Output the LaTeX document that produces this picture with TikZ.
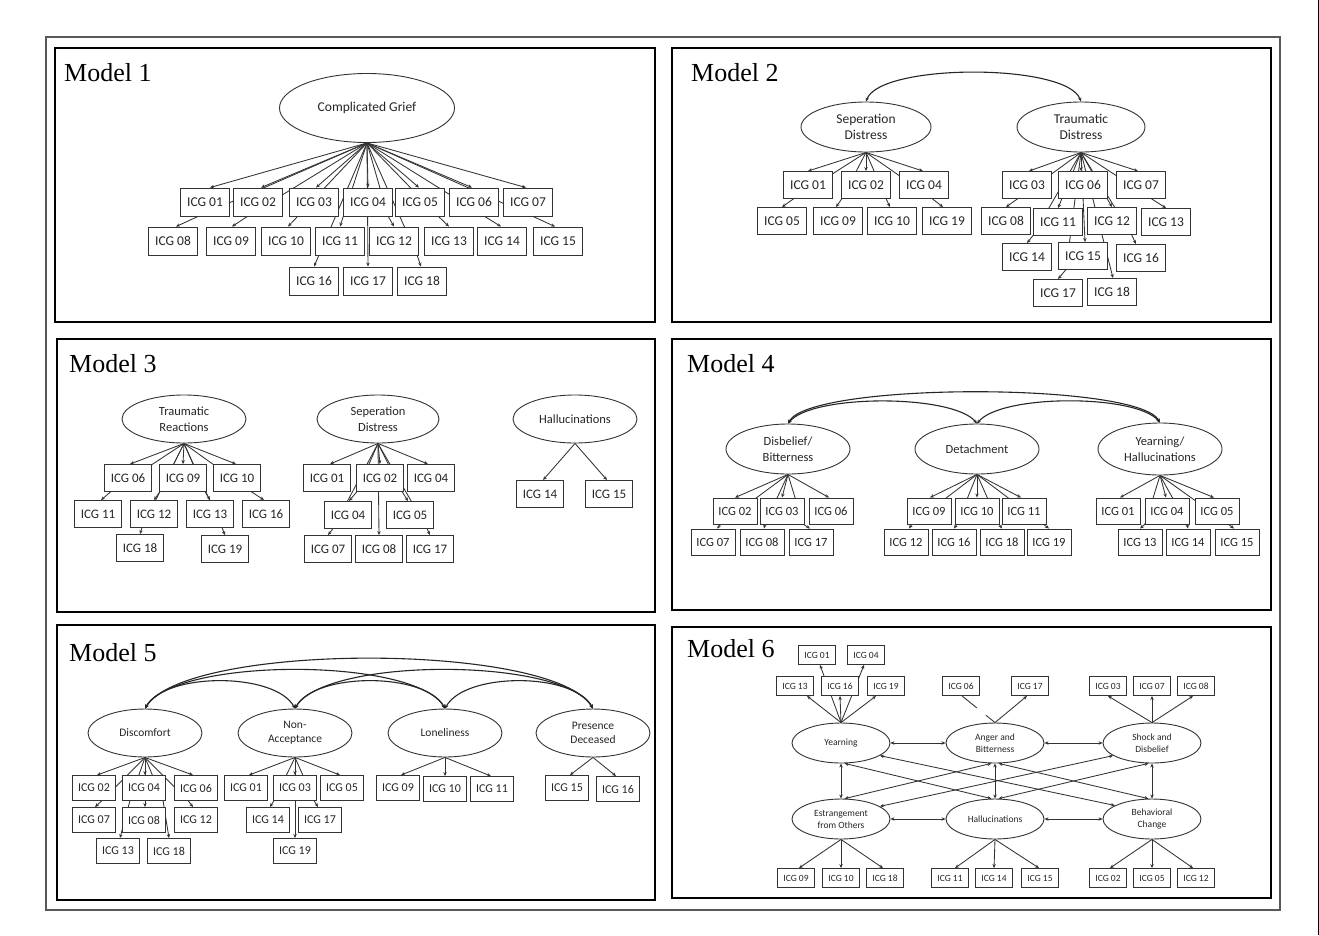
\documentclass[tikz,border=0pt]{standalone}
\usepackage{fontspec}
\setmainfont{Carlito}
\newfontfamily\titlefont{Liberation Serif}
\usetikzlibrary{shapes.geometric,arrows.meta,calc}
\pgfdeclarelayer{bg}
\pgfsetlayers{bg,main}
\tikzset{
  >={Stealth[length=4pt,width=3.4pt]},
  panel/.style={draw=black, line width=2.2pt},
  outerframe/.style={draw=black!65, line width=1.2pt},
  ttl/.style={anchor=base west, inner sep=0pt, font=\titlefont\fontsize{26}{26}\selectfont},
  lat/.style 2 args={ellipse, draw=black!80, line width=0.9pt, fill=white, minimum width=#1, minimum height=#2, inner sep=0pt, align=center, text=black!85},
  bx/.style 2 args={draw=black!80, line width=0.9pt, fill=white, minimum width=#1, minimum height=#2, inner sep=0pt, text=black!85},
  ar/.style={draw=black!80, line width=0.85pt, ->},
  dar/.style={draw=black!85, line width=1.1pt, <->},
  ln/.style={draw=black!80, line width=0.85pt},
  fA/.style={font=\fontsize{13.5}{16}\selectfont},
  fB/.style={font=\fontsize{13}{15}\selectfont},
  fC/.style={font=\fontsize{12.5}{15.5}\selectfont},
  fD/.style={font=\fontsize{12}{15}\selectfont},
  fL/.style={font=\fontsize{11.5}{14}\selectfont},
  fE/.style={font=\fontsize{9.5}{12}\selectfont},
  bA/.style={bx={49}{28}, fA},
  bB/.style={bx={49}{27}, fA},
  bC/.style={bx={47}{27}, fB},
  bD/.style={bx={44}{26}, fC},
  bE/.style={bx={43}{25}, fD},
  bF/.style={bx={37}{19}, fE},
}
\begin{document}
\begin{tikzpicture}[x=1pt,y=-1pt]
\useasboundingbox (0,0) rectangle (1319,935);
\begin{pgfonlayer}{bg}
\fill[white] (0,0) rectangle (1319,935);
\end{pgfonlayer}
\draw[line width=1.5pt] (1318.4,0) -- (1318.4,935);
\draw[outerframe] (46,37) rectangle (1280,910);
\draw[panel] (55,48) rectangle (655,322);
\draw[panel] (672,48) rectangle (1271,322);
\draw[panel] (57,339) rectangle (655,612);
\draw[panel] (672,339) rectangle (1271,610);
\draw[panel] (57,625) rectangle (655,900);
\draw[panel] (672,627) rectangle (1271,898);

% ================= Model 1 =================
\node[ttl] (t1) at (64,81) {Model 1};
\node[lat={175}{69}, fA] (m1cg) at (367,108) {Complicated Grief};
\node[bA] (m1i01) at (205,202) {ICG 01};
\node[bA] (m1i02) at (258,202) {ICG 02};
\node[bA] (m1i03) at (314,202) {ICG 03};
\node[bA] (m1i04) at (368,202) {ICG 04};
\node[bA] (m1i05) at (420,202) {ICG 05};
\node[bA] (m1i06) at (474,202) {ICG 06};
\node[bA] (m1i07) at (528,202) {ICG 07};
\node[bA] (m1i08) at (173,241) {ICG 08};
\node[bA] (m1i09) at (231,241) {ICG 09};
\node[bA] (m1i10) at (286,241) {ICG 10};
\node[bA] (m1i11) at (340,241) {ICG 11};
\node[bA] (m1i12) at (394,241) {ICG 12};
\node[bA] (m1i13) at (449,241) {ICG 13};
\node[bA] (m1i14) at (502,241) {ICG 14};
\node[bA] (m1i15) at (558,241) {ICG 15};
\node[bA] (m1i16) at (314,281) {ICG 16};
\node[bA] (m1i17) at (368,281) {ICG 17};
\node[bA] (m1i18) at (422,281) {ICG 18};
\begin{pgfonlayer}{bg}
\draw[ar] (m1cg.south) -- ([xshift=5]m1i01.north);
\draw[ar] (m1cg.south) -- ([xshift=3]m1i02.north);
\draw[ar] (m1cg.south) -- ([xshift=2]m1i03.north);
\draw[ar] (m1cg.south) -- (m1i04.north);
\draw[ar] (m1cg.south) -- ([xshift=-1]m1i05.north);
\draw[ar] (m1cg.south) -- ([xshift=-2]m1i06.north);
\draw[ar] (m1cg.south) -- ([xshift=-2]m1i07.north);
\draw[ar] (m1cg.south) -- (199,216) -- ([xshift=3]m1i08.north);
\draw[ar] (m1cg.south) -- (248,216) -- ([xshift=1]m1i09.north);
\draw[ar] (m1cg.south) -- (298,216) -- ([xshift=2]m1i10.north);
\draw[ar] (m1cg.south) -- (m1i11.north);
\draw[ar] (m1cg.south) -- (388,216) -- (m1i12.north);
\draw[ar] (m1cg.south) -- (438,216) -- (m1i13.north);
\draw[ar] (m1cg.south) -- (484,216) -- ([xshift=-1]m1i14.north);
\draw[ar] (m1cg.south) -- (532,216) -- ([xshift=-3]m1i15.north);
\draw[ar] (m1cg.south) -- (319,255) -- (m1i16.north);
\draw[ar] (m1cg.south) -- (m1i17.north);
\draw[ar] (m1cg.south) -- (417,255) -- ([xshift=-1]m1i18.north);
\end{pgfonlayer}

% ================= Model 2 =================
\node[ttl] (t2) at (691,81) {Model 2};
\node[lat={130}{50}, fA] (m2sd) at (866,127) {Seperation\\Distress};
\node[lat={128}{50}, fA] (m2td) at (1081,127) {Traumatic\\Distress};
\node[bB] (m2i01) at (808,185) {ICG 01};
\node[bB] (m2i02) at (866,185) {ICG 02};
\node[bB] (m2i04) at (924,185) {ICG 04};
\node[bB] (m2i05) at (782,221) {ICG 05};
\node[bB] (m2i09) at (838,221) {ICG 09};
\node[bB] (m2i10) at (892,221) {ICG 10};
\node[bB] (m2i19) at (947,221) {ICG 19};
\node[bB] (m2i03) at (1027,185) {ICG 03};
\node[bB] (m2i06) at (1083,185) {ICG 06};
\node[bB] (m2i07) at (1141,185) {ICG 07};
\node[bB] (m2i08) at (1006,221) {ICG 08};
\node[bB] (m2i11) at (1058,222) {ICG 11};
\node[bB] (m2i12) at (1112,221) {ICG 12};
\node[bB] (m2i13) at (1166,222) {ICG 13};
\node[bB] (m2i14) at (1027,257) {ICG 14};
\node[bB] (m2i15) at (1083,256) {ICG 15};
\node[bB] (m2i16) at (1141,258) {ICG 16};
\node[bB] (m2i17) at (1058,293) {ICG 17};
\node[bB] (m2i18) at (1112,292) {ICG 18};
\begin{pgfonlayer}{bg}
\draw[dar] (m2sd.north) .. controls (880,63) and (1067,63) .. (m2td.north);
\draw[ar] (m2sd.south) -- (m2i01.north);
\draw[ar] (m2sd.south) -- (m2i02.north);
\draw[ar] (m2sd.south) -- ([xshift=-1]m2i04.north);
\draw[ar] (m2sd.south) -- (794,198.5) -- (m2i05.north);
\draw[ar] (m2sd.south) -- (842,198.5) -- ([xshift=-2]m2i09.north);
\draw[ar] (m2sd.south) -- (886,198.5) -- ([xshift=-2]m2i10.north);
\draw[ar] (m2sd.south) -- (932,198.5) -- ([xshift=-4]m2i19.north);
\draw[ar] (m2td.south) -- ([xshift=2]m2i03.north);
\draw[ar] (m2td.south) -- ([xshift=-2]m2i06.north);
\draw[ar] (m2td.south) -- ([xshift=-3]m2i07.north);
\draw[ar] (m2td.south) -- (1018,198.5) -- (m2i08.north);
\draw[ar] (m2td.south) -- (m2i11.north);
\draw[ar] (m2td.south) -- (1107,198.5) -- (m2i12.north);
\draw[ar] (m2td.south) -- (1151,198.5) -- (m2i13.north);
\draw[ar] (m2td.south) -- (1033,235.5) -- (m2i14.north);
\draw[ar] (m2td.south) -- ([xshift=2]m2i15.north);
\draw[ar] (m2td.south) -- (1132,235.5) -- ([xshift=-5]m2i16.north);
\draw[ar] (m2td.south) -- (1066,269.5) -- (m2i17.north);
\draw[ar] (m2td.south) -- ([xshift=1]m2i18.north);
\end{pgfonlayer}

% ================= Model 3 =================
\node[ttl] (t3) at (69,372) {Model 3};
\node[lat={124}{48}, fC] (m3tr) at (184,419) {Traumatic\\Reactions};
\node[lat={122}{48}, fC] (m3sd) at (378,419) {Seperation\\Distress};
\node[lat={124}{48}, fC] (m3hl) at (575,419) {Hallucinations};
\node[bC] (m3a06) at (128,478) {ICG 06};
\node[bC] (m3a09) at (183,478) {ICG 09};
\node[bC] (m3a10) at (237,478) {ICG 10};
\node[bC] (m3a11) at (98,514) {ICG 11};
\node[bC] (m3a12) at (154,514) {ICG 12};
\node[bC] (m3a13) at (210,514) {ICG 13};
\node[bC] (m3a16) at (266,514) {ICG 16};
\node[bC] (m3a18) at (140,548) {ICG 18};
\node[bC] (m3a19) at (225,549) {ICG 19};
\node[bC] (m3b01) at (327,478) {ICG 01};
\node[bC] (m3b02) at (380,478) {ICG 02};
\node[bC] (m3b04) at (431,478) {ICG 04};
\node[bC] (m3b04b) at (348,515) {ICG 04};
\node[bC] (m3b05) at (410,515) {ICG 05};
\node[bC] (m3b07) at (328,549) {ICG 07};
\node[bC] (m3b08) at (379,549) {ICG 08};
\node[bC] (m3b17) at (430,549) {ICG 17};
\node[bC] (m3c14) at (540,494) {ICG 14};
\node[bC] (m3c15) at (609,494) {ICG 15};
\begin{pgfonlayer}{bg}
\draw[ar] (m3tr.south) -- ([xshift=2]m3a06.north);
\draw[ar] (m3tr.south) -- (m3a09.north);
\draw[ar] (m3tr.south) -- ([xshift=-1]m3a10.north);
\draw[ar] (m3tr.south) -- (111,491.5) -- ([xshift=3]m3a11.north);
\draw[ar] (m3tr.south) -- (160,491.5) -- (m3a12.north);
\draw[ar] (m3tr.south) -- (205,491.5) -- (m3a13.north);
\draw[ar] (m3tr.south) -- (251,491.5) -- ([xshift=-2]m3a16.north);
\draw[ar] (m3tr.south) -- (142,527.5) -- (m3a18.north);
\draw[ar] (m3tr.south) -- (222,527.5) -- (m3a19.north);
\draw[ar] (m3sd.south) -- ([xshift=3]m3b01.north);
\draw[ar] (m3sd.south) -- (m3b02.north);
\draw[ar] (m3sd.south) -- ([xshift=-3]m3b04.north);
\draw[ar] (m3sd.south) -- (357,491.5) -- ([xshift=1]m3b04b.north);
\draw[ar] (m3sd.south) -- (402,491.5) -- ([xshift=-2]m3b05.north);
\draw[ar] (m3sd.south) -- (333,528.5) -- (m3b07.north);
\draw[ar] (m3sd.south) -- (m3b08.north);
\draw[ar] (m3sd.south) -- (427,528.5) -- (m3b17.north);
\draw[ar] (m3hl.south) -- ([xshift=3]m3c14.north);
\draw[ar] (m3hl.south) -- ([xshift=-2]m3c15.north);
\end{pgfonlayer}

% ================= Model 4 =================
\node[ttl] (t4) at (687,372) {Model 4};
\node[lat={124}{50}, fC] (m4db) at (788,449) {Disbelief/\\Bitterness};
\node[lat={124}{50}, fC] (m4det) at (977,449) {Detachment};
\node[lat={124}{52}, fC] (m4yh) at (1160,449) {Yearning/\\Hallucinations};
\node[bD] (m4a02) at (735,511) {ICG 02};
\node[bD] (m4a03) at (782,511) {ICG 03};
\node[bD] (m4a06) at (831,511) {ICG 06};
\node[bD] (m4a07) at (713,542) {ICG 07};
\node[bD] (m4a08) at (762,542) {ICG 08};
\node[bD] (m4a17) at (811,542) {ICG 17};
\node[bD] (m4b09) at (929,511) {ICG 09};
\node[bD] (m4b10) at (977,511) {ICG 10};
\node[bD] (m4b11) at (1024,511) {ICG 11};
\node[bD] (m4b12) at (906,542) {ICG 12};
\node[bD] (m4b16) at (954,542) {ICG 16};
\node[bD] (m4b18) at (1002,542) {ICG 18};
\node[bD] (m4b19) at (1049,542) {ICG 19};
\node[bD] (m4c01) at (1118,511) {ICG 01};
\node[bD] (m4c04) at (1167,511) {ICG 04};
\node[bD] (m4c05) at (1217,511) {ICG 05};
\node[bD] (m4c13) at (1140,542) {ICG 13};
\node[bD] (m4c14) at (1188,542) {ICG 14};
\node[bD] (m4c15) at (1237,542) {ICG 15};
\begin{pgfonlayer}{bg}
\draw[dar] (m4db.north) .. controls (810,382) and (1138,382) .. (m4yh.north);
\draw[dar] (m4db.north) .. controls (812,394) and (953,394) .. (m4det.north);
\draw[dar] (m4det.north) .. controls (1001,394) and (1136,394) .. (m4yh.north);
\draw[ar] (m4db.south) -- (m4a02.north);
\draw[ar] (m4db.south) -- (m4a03.north);
\draw[ar] (m4db.south) -- ([xshift=-2]m4a06.north);
\draw[ar] (m4db.south) -- (721,524) -- ([xshift=4]m4a07.north);
\draw[ar] (m4db.south) -- (765,524) -- ([xshift=2]m4a08.north);
\draw[ar] (m4db.south) -- (803,524) -- ([xshift=-1]m4a17.north);
\draw[ar] (m4det.south) -- ([xshift=1]m4b09.north);
\draw[ar] (m4det.south) -- (m4b10.north);
\draw[ar] (m4det.south) -- ([xshift=-3]m4b11.north);
\draw[ar] (m4det.south) -- (912,524) -- ([xshift=3]m4b12.north);
\draw[ar] (m4det.south) -- (957,524) -- (m4b16.north);
\draw[ar] (m4det.south) -- (999,524) -- (m4b18.north);
\draw[ar] (m4det.south) -- (1043,524) -- (m4b19.north);
\draw[ar] (m4yh.south) -- ([xshift=2]m4c01.north);
\draw[ar] (m4yh.south) -- ([xshift=-1]m4c04.north);
\draw[ar] (m4yh.south) -- ([xshift=-3]m4c05.north);
\draw[ar] (m4yh.south) -- (1145,524) -- (m4c13.north);
\draw[ar] (m4yh.south) -- (1187,524) -- (m4c14.north);
\draw[ar] (m4yh.south) -- (1228,524) -- ([xshift=-3]m4c15.north);
\end{pgfonlayer}

% ================= Model 5 =================
\node[ttl] (t5) at (69,661) {Model 5};
\node[lat={114}{48}, fL] (m5d) at (145,733) {Discomfort};
\node[lat={114}{48}, fL] (m5na) at (295,733) {Non-\\Acceptance};
\node[lat={114}{48}, fL] (m5l) at (445,733) {Loneliness};
\node[lat={114}{48}, fL] (m5pd) at (593,733) {Presence\\Deceased};
\node[bE] (m5a02) at (94,788) {ICG 02};
\node[bE] (m5a04) at (144,788) {ICG 04};
\node[bE] (m5a06) at (196,788) {ICG 06};
\node[bE] (m5a07) at (94,820) {ICG 07};
\node[bE] (m5a08) at (144,820) {ICG 08};
\node[bE] (m5a12) at (196,820) {ICG 12};
\node[bE] (m5a13) at (118,851) {ICG 13};
\node[bE] (m5a18) at (169,851) {ICG 18};
\node[bE] (m5b01) at (246,788) {ICG 01};
\node[bE] (m5b03) at (295,788) {ICG 03};
\node[bE] (m5b05) at (342,788) {ICG 05};
\node[bE] (m5b14) at (268,820) {ICG 14};
\node[bE] (m5b17) at (320,820) {ICG 17};
\node[bE] (m5b19) at (295,851) {ICG 19};
\node[bE] (m5c09) at (398,788) {ICG 09};
\node[bE] (m5c10) at (445,789) {ICG 10};
\node[bE] (m5c11) at (492,789) {ICG 11};
\node[bE] (m5d15) at (567,788) {ICG 15};
\node[bE] (m5d16) at (618,789) {ICG 16};
\begin{pgfonlayer}{bg}
\draw[dar] (m5d.north) .. controls (185,642) and (553,642) .. (m5pd.north);
\draw[dar] (m5d.north) .. controls (175,657) and (415,657) .. (m5l.north);
\draw[dar] (m5na.north) .. controls (325,657) and (563,657) .. (m5pd.north);
\draw[dar] (m5d.north) .. controls (165,672) and (275,672) .. (m5na.north);
\draw[dar] (m5na.north) .. controls (315,672) and (425,672) .. (m5l.north);
\draw[dar] (m5l.north) .. controls (465,672) and (573,672) .. (m5pd.north);
\draw[ar] (m5d.south) -- ([xshift=3]m5a02.north);
\draw[ar] (m5d.south) -- ([xshift=1]m5a04.north);
\draw[ar] (m5d.south) -- ([xshift=-3]m5a06.north);
\draw[ar] (m5d.south) -- (102,800.5) -- ([xshift=1]m5a07.north);
\draw[ar] (m5d.south) -- ([xshift=1]m5a08.north);
\draw[ar] (m5d.south) -- (188,800.5) -- ([xshift=-3]m5a12.north);
\draw[ar] (m5d.south) -- (130,800.5) -- ([xshift=2]m5a13.north);
\draw[ar] (m5d.south) -- (163,800.5) -- (m5a18.north);
\draw[ar] (m5na.south) -- ([xshift=3]m5b01.north);
\draw[ar] (m5na.south) -- (m5b03.north);
\draw[ar] (m5na.south) -- ([xshift=-2]m5b05.north);
\draw[ar] (m5na.south) -- (274,800.5) -- ([xshift=2]m5b14.north);
\draw[ar] (m5na.south) -- (314,800.5) -- ([xshift=-2]m5b17.north);
\draw[ar] (m5na.south) -- (m5b19.north);
\draw[ar] (m5l.south) -- ([xshift=3]m5c09.north);
\draw[ar] (m5l.south) -- (m5c10.north);
\draw[ar] (m5l.south) -- ([xshift=-1]m5c11.north);
\draw[ar] (m5pd.south) -- ([xshift=3]m5d15.north);
\draw[ar] (m5pd.south) -- ([xshift=-2]m5d16.north);
\end{pgfonlayer}

% ================= Model 6 =================
\node[ttl] (t6) at (687,657) {Model 6};
\node[lat={98}{40}, fE] (m6y) at (841,743) {Yearning};
\node[lat={98}{40}, fE] (m6an) at (995,743) {Anger and\\Bitterness};
\node[lat={98}{40}, fE] (m6s) at (1152,743) {Shock and\\Disbelief};
\node[lat={98}{40}, fE] (m6e) at (841,819) {Estrangement\\from Others};
\node[lat={98}{40}, fE] (m6h) at (995,819) {Hallucinations};
\node[lat={98}{40}, fE] (m6b) at (1152,819) {Behavioral\\Change};
\node[bF] (m6a01) at (817,655) {ICG 01};
\node[bF] (m6a04) at (866,655) {ICG 04};
\node[bF] (m6a13) at (795,686) {ICG 13};
\node[bF] (m6a16) at (840,686) {ICG 16};
\node[bF] (m6a19) at (886,686) {ICG 19};
\node[bF] (m6a06) at (961,686) {ICG 06};
\node[bF] (m6a17) at (1030,686) {ICG 17};
\node[bF] (m6a03) at (1108,686) {ICG 03};
\node[bF] (m6a07) at (1152,686) {ICG 07};
\node[bF] (m6a08) at (1196,686) {ICG 08};
\node[bF] (m6b09) at (796,878) {ICG 09};
\node[bF] (m6b10) at (841,878) {ICG 10};
\node[bF] (m6b18) at (885,878) {ICG 18};
\node[bF] (m6b11) at (950,878) {ICG 11};
\node[bF] (m6b14) at (994,878) {ICG 14};
\node[bF] (m6b15) at (1040,878) {ICG 15};
\node[bF] (m6b02) at (1108,878) {ICG 02};
\node[bF] (m6b05) at (1152,878) {ICG 05};
\node[bF] (m6b12) at (1196,878) {ICG 12};
\begin{pgfonlayer}{bg}
\draw[ar] (m6y.north) -- ([xshift=12]m6a13.south);
\draw[ar] (m6y.north) -- (m6a16.south);
\draw[ar] (m6y.north) -- ([xshift=-10]m6a19.south);
\draw[ar] (m6y.north) -- ([xshift=3]m6a01.south);
\draw[ar] (m6y.north) -- ([xshift=-2]m6a04.south);
\draw[ar] (m6an.north) -- ([xshift=-3]m6a17.south);
\draw[ln] ([xshift=1]m6a06.south) -- ($([xshift=1]m6a06.south)!0.45!(m6an.north)$);
\draw[ln] ($([xshift=1]m6a06.south)!0.72!(m6an.north)$) -- (m6an.north);
\draw[ar] (m6s.north) -- (m6a03.south);
\draw[ar] (m6s.north) -- (m6a07.south);
\draw[ar] (m6s.north) -- ([xshift=-3]m6a08.south);
\draw[ar] (m6e.south) -- ([xshift=3]m6b09.north);
\draw[ar] (m6e.south) -- (m6b10.north);
\draw[ar] (m6e.south) -- ([xshift=-2]m6b18.north);
\draw[ar] (m6h.south) -- ([xshift=5]m6b11.north);
\draw[ar] (m6h.south) -- (m6b14.north);
\draw[ar] (m6h.south) -- ([xshift=-1]m6b15.north);
\draw[ar] (m6b.south) -- ([xshift=2]m6b02.north);
\draw[ar] (m6b.south) -- (m6b05.north);
\draw[ar] (m6b.south) -- ([xshift=-3]m6b12.north);
\draw[ar,<->] (m6y.east) -- (m6an.west);
\draw[ar,<->] (m6an.east) -- (m6s.west);
\draw[ar,<->] (m6e.east) -- (m6h.west);
\draw[ar,<->] (m6h.east) -- (m6b.west);
\draw[ar,<->] (m6y.south) -- (m6e.north);
\draw[ar,<->] (m6an.south) -- (m6h.north);
\draw[ar,<->] (m6s.south) -- (m6b.north);
\draw[ar,<->] (m6y.-80) -- (m6h.100);
\draw[ar,<->] (m6an.-100) -- (m6e.80);
\draw[ar,<->] (m6an.-80) -- (m6b.100);
\draw[ar,<->] (m6s.-100) -- (m6h.80);
\draw[ar,<->] (m6y.-18) -- (m6b.160);
\draw[ar,<->] (m6s.-162) -- (m6e.18);
\end{pgfonlayer}
\end{tikzpicture}
\end{document}
